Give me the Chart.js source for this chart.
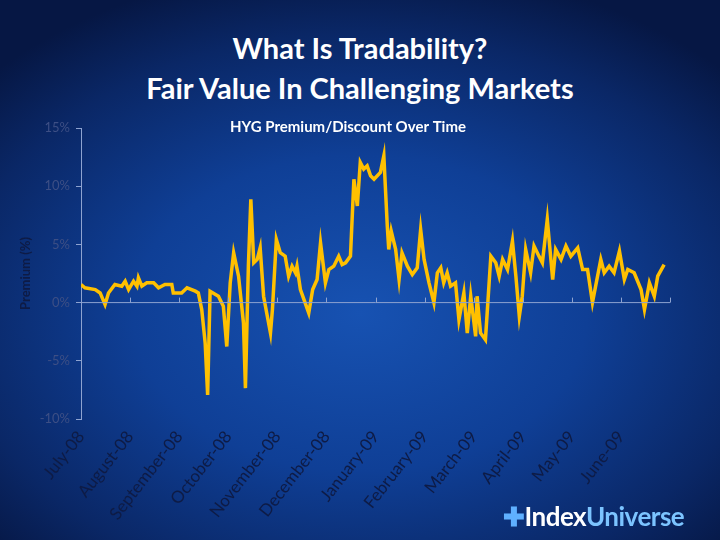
<!DOCTYPE html>
<html><head><meta charset="utf-8">
<script src="https://cdn.jsdelivr.net/npm/chart.js@4"></script>
<style>
html,body{margin:0;padding:0;}
body{width:720px;height:540px;overflow:hidden;position:relative;
background:radial-gradient(ellipse 70% 65% at 50% 58%,#1752b2 0%,#0f3f96 45%,#0a2766 80%,#061744 100%);font-family:Lato,"Open Sans",sans-serif;}
#title{position:absolute;top:28px;left:0;width:720px;text-align:center;color:#fff;font-weight:bold;font-size:29px;line-height:40px;}
#logo{position:absolute;left:503px;top:500px;font-size:26px;font-weight:bold;letter-spacing:-0.5px;}
#c{position:absolute;left:0;top:0;}
</style></head><body>
<div id="title">What Is Tradability?<br>Fair Value In Challenging Markets</div>
<canvas id="c" width="720" height="540"></canvas>
<div id="logo"><span style="color:#5fb0ff">✚</span><span style="color:#fff">Index</span><span style="color:#7cc4ff">Universe</span></div>
<script>
const monthLabels=["July-08","August-08","September-08","October-08","November-08","December-08","January-09","February-09","March-09","April-09","May-09","June-09"];
const yTicks=[15,10,5,0,-5,-10];
const monthPos=[0,0.08,0.29,0.39,0.49,0.56,0.69,0.83,0.90,0.97,1.07,1.14,1.17,1.24,1.34,1.48,1.58,1.71,1.85,1.88,2.05,2.16,2.33,2.39,2.46,2.53,2.58,2.63,2.80,2.90,2.97,3.04,3.11,3.21,3.31,3.35,3.41,3.46,3.52,3.59,3.65,3.72,3.86,3.90,3.98,4.06,4.16,4.23,4.30,4.37,4.40,4.47,4.64,4.72,4.81,4.88,4.98,5.05,5.15,5.25,5.32,5.39,5.49,5.56,5.63,5.69,5.76,5.83,5.90,5.97,6.10,6.17,6.24,6.27,6.32,6.41,6.48,6.54,6.65,6.75,6.85,6.92,6.99,7.09,7.19,7.26,7.33,7.39,7.46,7.53,7.63,7.70,7.80,7.87,7.94,8.04,8.07,8.14,8.24,8.35,8.45,8.52,8.59,8.69,8.79,8.86,8.93,8.99,9.06,9.16,9.23,9.33,9.40,9.50,9.61,9.67,9.78,9.88,9.98,10.12,10.22,10.32,10.42,10.59,10.66,10.76,10.86,10.97,11.07,11.14,11.27,11.41,11.48,11.58,11.68,11.75,11.88];
const premium=[1.55,1.27,1.12,0.83,-0.17,0.83,1.55,1.41,1.84,1.12,1.84,1.41,2.13,1.41,1.70,1.70,1.27,1.55,1.55,0.83,0.83,1.27,0.98,0.83,-0.6,-3.48,-7.93,0.98,0.55,-0.32,-3.77,1.70,4.28,2.27,-1.75,-7.35,3.13,8.88,3.42,3.71,4.71,0.55,-2.61,-0.6,5.43,4.28,3.99,2.27,3.13,2.56,3.13,1.12,-0.89,1.12,1.98,5.14,1.70,2.84,3.13,3.99,3.27,3.42,3.99,10.6,8.3,12.04,11.47,11.75,10.89,10.6,11.18,12.61,6.58,4.57,6.15,4.57,1.98,4.28,3.13,2.41,2.99,6.29,3.71,1.70,0,2.56,2.99,1.70,2.56,1.41,1.70,-1.47,0.83,-2.61,0.55,-2.9,0.55,-2.61,-3.19,3.99,3.42,2.27,3.71,2.84,5.29,2.27,-1.18,0.55,4.57,2.56,4.86,3.99,3.42,7.15,1.98,4.57,3.71,4.86,3.99,4.71,2.84,2.84,0,3.71,2.56,3.13,2.56,4.43,1.98,2.84,2.56,1.12,-0.6,1.70,0.55,2.27,3.27];
const points=monthPos.map((m,i)=>({x:m,y:premium[i]}));
const lbl='#0e1b45', axisCol='#8ea3d0';
const extra={id:'extra',afterDraw(ch){
 const c=ch.ctx,xs=ch.scales.x,ys=ch.scales.y,y0=ys.getPixelForValue(0);
 c.save();c.strokeStyle=axisCol;c.lineWidth=1;c.beginPath();
 c.moveTo(xs.left,y0);c.lineTo(xs.right,y0);
 for(let i=0;i<=12;i++){const px=Math.round(xs.getPixelForValue(i))+0.5;c.moveTo(px,y0);c.lineTo(px,y0-5);}
 c.stroke();
 c.fillStyle='#ffffff';c.font='bold 15px Lato';c.textAlign='center';c.fillText('HYG Premium/Discount Over Time',348,132);
 c.restore();}};
new Chart(document.getElementById('c'),{type:'line',
 data:{datasets:[{data:points,borderColor:'#FFC000',borderWidth:3.5,pointRadius:0,tension:0,fill:false}]},
 options:{responsive:false,animation:false,
  layout:{padding:{left:0,top:128,right:50,bottom:0}},
  plugins:{legend:{display:false},tooltip:{enabled:false}},
  scales:{
   x:{type:'linear',min:0,max:12,afterFit(s){s.height=121;},
    afterBuildTicks(s){s.ticks=monthLabels.map((_,i)=>({value:i}));},
    ticks:{autoSkip:false,minRotation:52,maxRotation:52,color:lbl,padding:0,font:{family:'Lato',size:17},
      callback:(v)=>monthLabels[v]},
    grid:{display:false},border:{display:false}},
   y:{min:-10,max:15,afterFit(s){s.width=81;},
    afterBuildTicks(s){s.ticks=yTicks.map(v=>({value:v}));},
    ticks:{color:'#3d4f85',font:{family:'Lato',size:13},callback:v=>v+'%',padding:6},
    grid:{drawOnChartArea:false,color:axisCol,tickLength:5},border:{color:axisCol},
    title:{display:true,text:'Premium (%)',color:lbl,font:{family:'Lato',size:13,weight:'bold'},padding:{top:18,bottom:0}}}
  }},plugins:[extra]});
</script></body></html>
